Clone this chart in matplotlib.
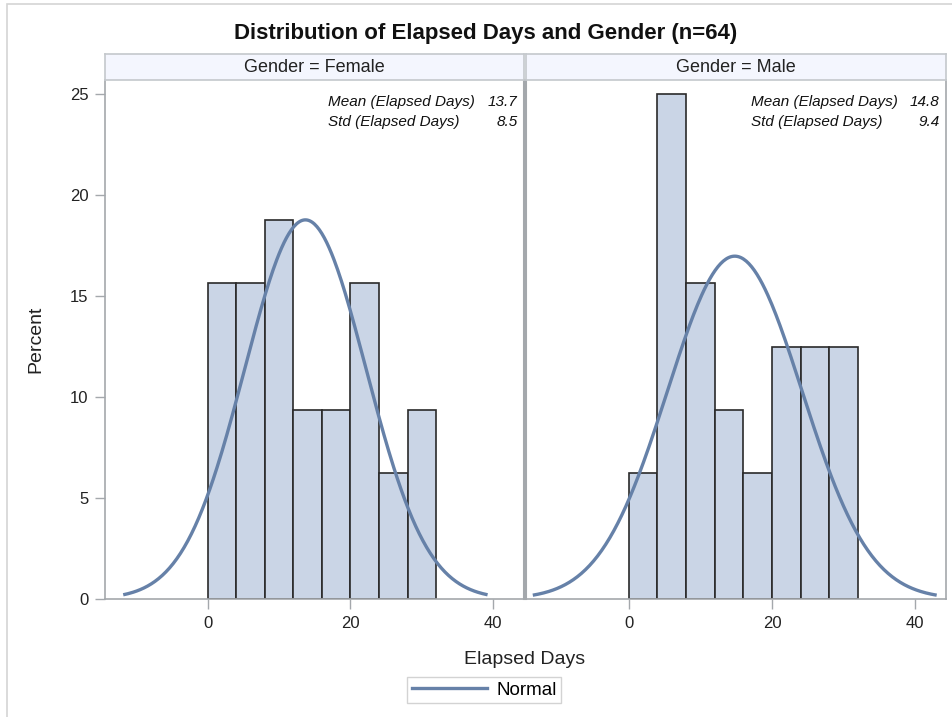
import numpy as np
import matplotlib
matplotlib.use("Agg")
import matplotlib.pyplot as plt
from matplotlib.patches import Rectangle

plt.rcParams['font.family'] = ['Liberation Sans', 'DejaVu Sans']

# histogram bins (days) and percent of patients per bin
bin_starts = [0, 4, 8, 12, 16, 20, 24, 28]
bin_width = 4
female_pct = [15.625, 15.625, 18.75, 9.375, 9.375, 15.625, 6.25, 9.375]
male_pct = [6.25, 25.0, 15.625, 9.375, 6.25, 12.5, 12.5, 12.5]

# fitted normal parameters per group
female_mean, female_std = 13.7, 8.5
male_mean, male_std = 14.8, 9.4

panels = [
    ("Gender = Female", female_pct, female_mean, female_std),
    ("Gender = Male", male_pct, male_mean, male_std),
]

x_ticks = [0, 20, 40]
y_ticks = [0, 5, 10, 15, 20, 25]

bar_fill = "#CAD5E6"
bar_edge = "#2A2A2A"
curve_col = "#6681A8"
frame_col = "#A4A8AC"
text_col = "#222222"

W, H = 952, 717
fig = plt.figure(figsize=(W / 100, H / 100), dpi=100)


def fx(px):
    return px / W


def fy(py):
    return 1 - py / H


# outer frame of the graph
fig.add_artist(Rectangle((fx(7), fy(730)), fx(960) - fx(7), fy(4) - fy(730),
                         transform=fig.transFigure, fill=False,
                         edgecolor="#D4D4D4", lw=1.2))

fig.text(fx(486), fy(33), "Distribution of Elapsed Days and Gender (n=64)",
         ha="center", va="center", fontsize=16, fontweight="bold", color="#111111")

panel_x = [(105, 524), (526, 946)]
plot_top, plot_bot = 80, 599
head_top = 54

axes = []
for i, (title, pct, mu, sd) in enumerate(panels):
    x0, x1 = panel_x[i]
    ax = fig.add_axes([fx(x0), fy(plot_bot), fx(x1) - fx(x0), fy(plot_top) - fy(plot_bot)])
    axes.append(ax)

    ax.bar(bin_starts, pct, width=bin_width, align="edge",
           color=bar_fill, edgecolor=bar_edge, linewidth=1.2, zorder=2)

    # normal density scaled to percent per bin, drawn over mean +/- 3 sd
    xs = np.linspace(mu - 3 * sd, mu + 3 * sd, 300)
    ys = bin_width * 100 * np.exp(-0.5 * ((xs - mu) / sd) ** 2) / (sd * np.sqrt(2 * np.pi))
    ax.plot(xs, ys, color=curve_col, lw=2.4, zorder=3, solid_capstyle="butt")

    ax.set_xlim(-14.35, 44.3)
    ax.set_ylim(0, 25.7)
    ax.set_xticks(x_ticks)
    ax.set_yticks(y_ticks)
    ax.tick_params(colors=frame_col, labelcolor=text_col, labelsize=12,
                   length=7, width=1, pad=5)
    if i == 1:
        ax.tick_params(axis="y", left=False, labelleft=False)
    for side in ["left", "right", "bottom"]:
        ax.spines[side].set_color(frame_col)
        ax.spines[side].set_linewidth(1.2)
    ax.spines["top"].set_visible(False)
    if i == 0:
        ax.spines["right"].set_linewidth(1.5)
    else:
        ax.spines["left"].set_linewidth(1.5)

    # inset statistics table
    lx = 0.533 if i == 0 else 0.536
    for row_y, name, val in [(0.9575, "Mean (Elapsed Days)", mu),
                             (0.919, "Std (Elapsed Days)", sd)]:
        ax.text(lx, row_y, name, transform=ax.transAxes, ha="left", va="center",
                fontsize=11, style="italic", color="#111111")
        ax.text(0.985, row_y, f"{val:.1f}", transform=ax.transAxes, ha="right",
                va="center", fontsize=11, style="italic", color="#111111")

    # header strip with the class level
    hx = fig.add_axes([fx(x0), fy(plot_top), fx(x1) - fx(x0), fy(head_top) - fy(plot_top)])
    hx.set_facecolor("#F4F6FE")
    hx.set_xticks([])
    hx.set_yticks([])
    for s in hx.spines.values():
        s.set_color("#C4C8CC")
        s.set_linewidth(1.2)
    hx.text(0.5, 0.5, title, ha="center", va="center", fontsize=13, color=text_col)

axes[0].set_ylabel("Percent", fontsize=14, color=text_col, labelpad=18)
fig.text(fx(525), fy(660), "Elapsed Days", ha="center", va="center",
         fontsize=14, color=text_col)

handle = plt.Line2D([], [], color=curve_col, lw=2.4)
fig.legend([handle], ["Normal"], loc="center", bbox_to_anchor=(fx(484), fy(690)),
           frameon=True, fancybox=False, edgecolor="#C8C8C8", fontsize=13.5,
           handlelength=4.0, borderpad=0.25, handletextpad=0.5)

fig.savefig("out.png", dpi=100)
